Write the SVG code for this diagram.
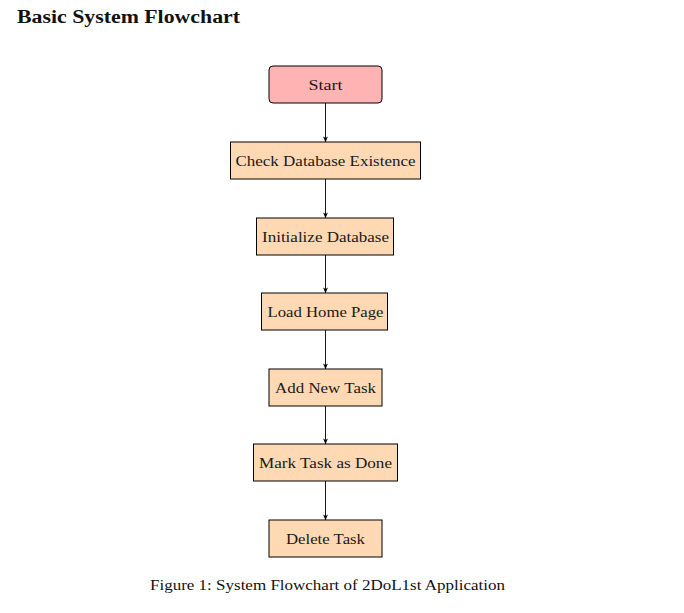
<svg xmlns="http://www.w3.org/2000/svg" width="684" height="613" viewBox="0 0 684 613">
<defs>
<style>
.box{fill:#ffd9b3;stroke:#000;stroke-width:1}
.start{fill:#ffb3b3;stroke:#000;stroke-width:1}
.lbl{font-family:"Liberation Serif","DejaVu Serif",serif;font-size:15.5px;fill:#1a1a1a;text-anchor:middle}
.conn{stroke:#000;stroke-width:0.9;fill:none;marker-end:url(#ah)}
</style>
<marker id="ah" viewBox="0 0 8 8" refX="7.5" refY="4" markerWidth="6" markerHeight="6" orient="auto" markerUnits="userSpaceOnUse">
<path d="M0,0.8 L8,4 L0,7.2 L2,4 Z" fill="#000"/>
</marker>
</defs>
<rect width="684" height="613" fill="#fff"/>
<text x="17" y="23" font-family="Liberation Serif,DejaVu Serif,serif" font-size="18" font-weight="bold" fill="#111" textLength="223" lengthAdjust="spacingAndGlyphs">Basic System Flowchart</text>
<g id="connectors">
<line class="conn" x1="325.5" y1="103" x2="325.5" y2="142"/>
<line class="conn" x1="325.5" y1="179" x2="325.5" y2="218"/>
<line class="conn" x1="325.5" y1="255" x2="325.5" y2="293"/>
<line class="conn" x1="325.5" y1="330" x2="325.5" y2="369"/>
<line class="conn" x1="325.5" y1="406" x2="325.5" y2="444"/>
<line class="conn" x1="325.5" y1="481" x2="325.5" y2="520"/>
</g>
<g id="start"><rect class="start" x="269" y="66" width="113" height="37" rx="4"/><text class="lbl" x="325.5" y="90" textLength="34" lengthAdjust="spacingAndGlyphs">Start</text></g>
<g id="check"><rect class="box" x="230.5" y="142" width="190" height="37"/><text class="lbl" x="325.5" y="166" textLength="180" lengthAdjust="spacingAndGlyphs">Check Database Existence</text></g>
<g id="init"><rect class="box" x="256.5" y="218" width="137" height="37"/><text class="lbl" x="325.5" y="242" textLength="127" lengthAdjust="spacingAndGlyphs">Initialize Database</text></g>
<g id="load"><rect class="box" x="261.5" y="293" width="126" height="37"/><text class="lbl" x="325.5" y="317" textLength="116" lengthAdjust="spacingAndGlyphs">Load Home Page</text></g>
<g id="add"><rect class="box" x="269" y="369" width="113" height="37"/><text class="lbl" x="325.5" y="393" textLength="101" lengthAdjust="spacingAndGlyphs">Add New Task</text></g>
<g id="mark"><rect class="box" x="253.5" y="444" width="144" height="37"/><text class="lbl" x="325.5" y="468" textLength="133" lengthAdjust="spacingAndGlyphs">Mark Task as Done</text></g>
<g id="delete"><rect class="box" x="269" y="520" width="113" height="37"/><text class="lbl" x="325.5" y="544" textLength="79" lengthAdjust="spacingAndGlyphs">Delete Task</text></g>
<text x="327.5" y="590" font-family="Liberation Serif,DejaVu Serif,serif" font-size="15.5" fill="#111" text-anchor="middle" textLength="355" lengthAdjust="spacingAndGlyphs">Figure 1: System Flowchart of 2DoL1st Application</text>
</svg>
